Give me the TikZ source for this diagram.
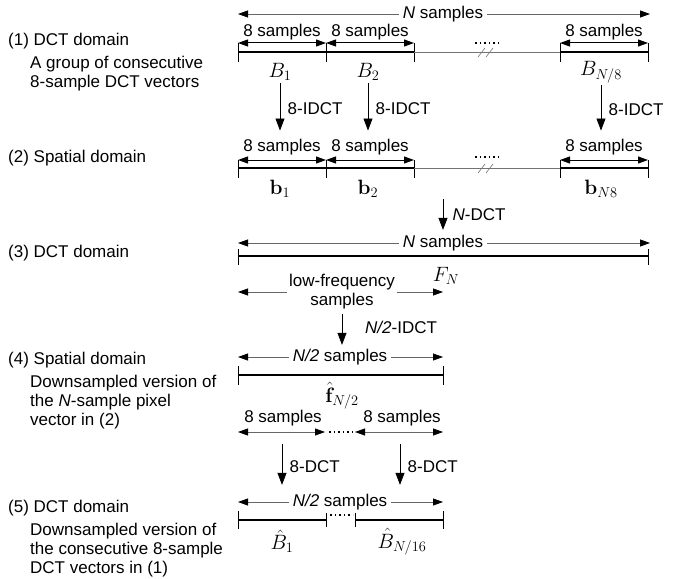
\documentclass[tikz,border=0pt]{standalone}
\usepackage[no-math]{fontspec}
\setmainfont{Liberation Sans}
\usetikzlibrary{arrows.meta}

\tikzset{
    dimarr/.style={-{Triangle[length=10pt,width=7pt,black]}, draw=black!60, line width=0.8pt},
    blockarr/.style={{Triangle[length=10pt,width=7pt]}-{Triangle[length=10pt,width=7pt]}, line width=1pt},
    halfarr/.style={{Triangle[length=10pt,width=7pt,black]}-{Triangle[length=10pt,width=7pt,black]}, draw=black!60, line width=0.8pt},
    xform/.style={-{Triangle[length=12pt,width=9pt]}, line width=0.7pt, shorten >=5pt, shorten <=2pt},
    axis/.style={line width=1.2pt},
    thinaxis/.style={draw=black!55, line width=0.6pt},
    tickmark/.style={line width=0.6pt},
    dotrow/.style={line width=1.6pt, dash pattern=on 1.6pt off 3pt},
    lbl/.style={inner sep=4pt},
    sym/.style={font=\fontsize{21}{23}\selectfont, inner sep=0pt},
    note/.style={anchor=base west, align=left, inner sep=0pt},
}

\begin{document}
\begin{tikzpicture}[x=1pt, y=-1pt, every node/.style={font=\fontsize{17}{19}\selectfont}]
    \useasboundingbox (0,0) rectangle (690,578);

    % Left-hand captions (multi-line ones sit on their last baseline)
    \node[note] (t1) at (8,46) {(1) DCT domain};
    \node[note] (t1a) at (30,87) {A group of consecutive\\8-sample DCT vectors};
    \node[note] (t2) at (8,162) {(2) Spatial domain};
    \node[note] (t3) at (8,257) {(3) DCT domain};
    \node[note] (t4) at (8,364) {(4) Spatial domain};
    \node[note] (t4a) at (30,425) {Downsampled version of\\the \textit{N}-sample pixel\\vector in (2)};
    \node[note] (t5) at (8,512) {(5) DCT domain};
    \node[note] (t5a) at (30,573) {Downsampled version of\\the consecutive 8-sample\\DCT vectors in (1)};

    % (1) DCT blocks
    \coordinate (r1L) at (238,14);
    \coordinate (r1R) at (650,14);
    \node[lbl] (r1N) at (443,14) {\textit{N} samples};
    \draw[dimarr] (r1N) -- (r1L);
    \draw[dimarr] (r1N) -- (r1R);
    \foreach \x/\name in {238/p1, 326/p2, 414/p3, 560/p4, 648/p5} {
        \coordinate (\name) at (\x,43);
        \draw[tickmark] (\x,43) -- (\x,62);
    }
    \draw[blockarr] (p1) -- (p2);
    \draw[blockarr] (p2) -- (p3);
    \draw[blockarr] (p4) -- (p5);
    \node (s11) at (282,32) {8 samples};
    \node (s12) at (370,32) {8 samples};
    \node (s13) at (604,32) {8 samples};
    \draw[axis] (238,52) -- (414,52);
    \draw[thinaxis] (414,52) -- (560,52);
    \draw[axis] (560,52) -- (648,52);
    \draw[dotrow] (475,43) -- (499,43);
    \draw[thinaxis] (478,57) -- (485,48) (486,57) -- (493,48);
    \node[sym] (B1) at (280,72) {$B_1$};
    \node[sym] (B2) at (368,72) {$B_2$};
    \node[sym] (B3) at (601,72) {$B_{N/8}$};

    % (2) spatial blocks
    \foreach \x/\name in {238/q1, 326/q2, 414/q3, 560/q4, 648/q5} {
        \coordinate (\name) at (\x,160);
        \draw[tickmark] (\x,160) -- (\x,178);
    }
    \draw[blockarr] (q1) -- (q2);
    \draw[blockarr] (q2) -- (q3);
    \draw[blockarr] (q4) -- (q5);
    \node (s21) at (282,147) {8 samples};
    \node (s22) at (370,147) {8 samples};
    \node (s23) at (604,147) {8 samples};
    \draw[axis] (238,168) -- (414,168);
    \draw[thinaxis] (414,168) -- (560,168);
    \draw[axis] (560,168) -- (648,168);
    \draw[dotrow] (475,157) -- (499,157);
    \draw[thinaxis] (478,173) -- (485,164) (486,173) -- (493,164);
    \node[sym] (b1) at (280,189) {$\mathbf{b}_1$};
    \node[sym] (b2) at (368,189) {$\mathbf{b}_2$};
    \node[sym] (b3) at (601,189) {$\mathbf{b}_{N8}$};

    % 8-IDCT
    \draw[xform] (B1.south) -- (B1.south |- s21.north) node[midway, right=4pt] (i1) {8-IDCT};
    \draw[xform] (B2.south) -- (B2.south |- s22.north) node[midway, right=4pt] (i2) {8-IDCT};
    \draw[xform] (B3.south) -- (B3.south |- s23.north) node[midway, right=4pt] (i3) {8-IDCT};

    % (3) N-point DCT
    \coordinate (nd) at (443,199);
    \coordinate (r3L) at (238,243);
    \coordinate (r3R) at (650,243);
    \node[lbl] (r3N) at (443,243) {\textit{N} samples};
    \draw[xform, shorten >=1pt, shorten <=0pt] (nd) -- (r3N.north) node[midway, right=6pt] (nlab) {\textit{N}-DCT};
    \draw[dimarr] (r3N) -- (r3L);
    \draw[dimarr] (r3N) -- (r3R);
    \draw[axis] (238,256) -- (648,256);
    \draw[tickmark] (238,249) -- (238,265);
    \draw[tickmark] (648,249) -- (648,265);
    \node[sym] (FN) at (446,276) {$F_N$};
    \coordinate (lfL) at (238,292);
    \coordinate (lfR) at (443,292);
    \node[lbl, align=center, inner sep=2pt] (lf) at (342,292) {low-frequency\\samples};
    \draw[dimarr] (lf) -- (lfL);
    \draw[dimarr] (lf) -- (lfR);

    % (4) N/2-IDCT
    \coordinate (r4L) at (238,357);
    \coordinate (r4R) at (443,357);
    \node[lbl] (r4N) at (340,357) {\textit{N/2} samples};
    \draw[xform, shorten >=0pt] (lf.south) -- (lf.south |- r4N.north);
    \node[anchor=west, inner sep=0pt] (hlab) at (365,327) {\textit{N/2}-IDCT};
    \draw[dimarr] (r4N) -- (r4L);
    \draw[dimarr] (r4N) -- (r4R);
    \draw[axis] (238,375) -- (443,375);
    \draw[tickmark] (238,366) -- (238,385);
    \draw[tickmark] (443,366) -- (443,385);
    \node[sym] (fh) at (342,396) {$\hat{\mathbf{f}}_{N/2}$};

    \coordinate (u1) at (238,432);
    \coordinate (u2) at (325,432);
    \coordinate (u3) at (355,432);
    \coordinate (u4) at (443,432);
    \draw[halfarr] (u1) -- (u2);
    \draw[halfarr] (u3) -- (u4);
    \draw[dotrow] (329,432) -- (353,432);
    \node (s41) at (283,418) {8 samples};
    \node (s42) at (402,418) {8 samples};

    % (5) 8-DCT
    \coordinate (r5L) at (238,502);
    \coordinate (r5R) at (443,502);
    \node[lbl] (r5N) at (340,502) {\textit{N/2} samples};
    \coordinate (d1) at (282,444);
    \coordinate (d2) at (400,444);
    \draw[xform, shorten <=0pt] (d1) -- (d1 |- r5N.north) node[midway, right=4pt] (k1) {8-DCT};
    \draw[xform, shorten <=0pt] (d2) -- (d2 |- r5N.north) node[midway, right=4pt] (k2) {8-DCT};
    \draw[dimarr] (r5N) -- (r5L);
    \draw[dimarr] (r5N) -- (r5R);
    \draw[axis] (238,520) -- (326,520);
    \draw[axis] (355,520) -- (443,520);
    \draw[dotrow] (330,515) -- (353,515);
    \draw[tickmark] (238,511) -- (238,529);
    \draw[tickmark] (443,511) -- (443,529);
    \draw[tickmark] (326,513) -- (326,527);
    \draw[tickmark] (355,513) -- (355,527);
    \node[sym] (Bh1) at (282,541) {$\hat{B}_1$};
    \node[sym] (Bh2) at (402,542) {$\hat{B}_{N/16}$};
\end{tikzpicture}
\end{document}
